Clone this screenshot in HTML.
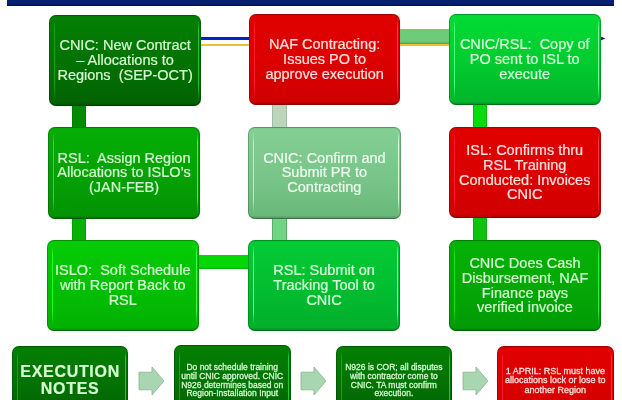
<!DOCTYPE html>
<html><head><meta charset="utf-8">
<style>
*{margin:0;padding:0;box-sizing:border-box}
html,body{width:622px;height:400px;overflow:hidden;background:#fff}
body{position:relative;font-family:"Liberation Sans",sans-serif}
.bar{position:absolute;left:6.5px;top:0;width:607.5px;height:5.6px;background:linear-gradient(#05226e,#04206a 65%,#020e50)}
.c{position:absolute}
.v{box-shadow:inset 1px 0 0 rgba(0,0,0,.12),inset -1px 0 0 rgba(0,0,0,.12)}
.box{position:absolute;z-index:0;will-change:transform;border-radius:7px;display:flex;align-items:center;justify-content:center;text-align:center;font-size:14.5px;line-height:14.8px;white-space:pre;-webkit-text-stroke:.2px currentColor}
.box::before{content:"";position:absolute;z-index:-1;left:0;top:0;right:0;bottom:0;border-radius:inherit;
 box-shadow:inset 0 0 0 1px rgba(0,0,0,.22);
 background:linear-gradient(to bottom,rgba(0,0,0,.12) 0,rgba(0,0,0,0) 2px,rgba(0,0,0,0) calc(100% - 3.5px),rgba(0,0,0,.24) 100%);}
.box::after{content:"";position:absolute;z-index:-1;left:4.5px;right:2px;top:5px;bottom:5px;border-left:1.6px solid var(--hl);border-right:1.6px solid var(--hr,var(--hl));
 -webkit-mask-image:linear-gradient(transparent,#000 12%,#000 80%,transparent);filter:blur(.4px)}
.dg{--hl:#14a414;--hr:#22c43a;background:linear-gradient(#038003,#037303 50%,#026202);color:#d6fad2}
.mg{--hl:#14ee14;--hr:#22ff40;background:linear-gradient(#05ae05,#04a204 50%,#039203);color:#d6fad2}
.g9{--hl:#14e414;--hr:#22f042;background:linear-gradient(#04b204,#03a805 50%,#029a06);color:#d6fad2}
.bg{--hl:#1cff1c;--hr:#40ff40;background:linear-gradient(#06cc06,#03c003 50%,#02b002);color:#d6fcd4}
.b8{--hl:#50ff80;--hr:#80ffa0;background:linear-gradient(#04cc34,#02be30 50%,#00ae2a);color:#daffdc}
.b3{--hl:#50ff80;--hr:#70ff98;background:linear-gradient(#02dc34,#02cc30 50%,#02b42a);color:#d8fcdc}
.lg{--hl:#b4f2c4;--hr:#d8ffe0;background:linear-gradient(#84cf94,#78c488 60%,#68b678);color:#effcef}
.rd{--hl:#ff2030;--hr:#ff3848;background:linear-gradient(#e00000,#dc0000 50%,#cf0000);color:#ffe2e0}
.sm{font-size:8.5px;line-height:8.8px}
.sm span{display:inline-block;-webkit-text-stroke:.26px currentColor}
.ex{font-weight:bold;font-size:16px;line-height:17px;letter-spacing:.7px;padding-left:.7px}
.arr{position:absolute}
</style></head><body>
<div class="bar"></div>

<!-- connectors -->
<div class="c" style="left:201px;top:36.7px;width:400px;height:3.5px;background:#0424c0"></div>
<div class="c" style="left:201px;top:43.6px;width:249px;height:2.5px;background:#e8c42c"></div>
<div class="c" style="left:400px;top:29px;width:50px;height:14.6px;background:#6dcc7a;box-shadow:inset 0 -1.5px 1px rgba(40,90,40,.35)"></div>
<div class="c v" style="left:72px;top:104px;width:14px;height:24px;background:#058a05"></div>
<div class="c v" style="left:72px;top:215px;width:14px;height:26px;background:#07b207"></div>
<div class="c" style="left:197px;top:255px;width:54px;height:14.2px;background:#04d804;box-shadow:inset 0 -1.5px 0 rgba(0,0,0,.12)"></div>
<div class="c" style="left:271.5px;top:104px;width:15px;height:24px;background:#bcd6bc;box-shadow:inset 1px 0 0 #a0bca0,inset -1px 0 0 #a0bca0"></div>
<div class="c" style="left:272px;top:215px;width:14.5px;height:26px;background:#70d482;box-shadow:inset 1px 0 0 rgba(40,110,60,.35),inset -1px 0 0 rgba(40,110,60,.35)"></div>
<div class="c v" style="left:473px;top:104px;width:14px;height:24px;background:#06dc0c"></div>
<div class="c v" style="left:473px;top:215px;width:14px;height:26px;background:#0ec20e"></div>

<svg class="c" style="left:600px;top:35px" width="8" height="8"><path d="M0.6 1.4 L5.4 3.4 L0.6 5.4Z" fill="#0c1890"/></svg>
<!-- row 1 -->
<div class="box dg" style="left:49px;top:15px;width:152.2px;height:91px">CNIC: New Contract
– Allocations to
Regions  (SEP-OCT)</div>
<div class="box rd" style="left:248.75px;top:14px;width:151.25px;height:91px">NAF Contracting:
Issues PO to
approve execution</div>
<div class="box b3" style="left:448.8px;top:13.5px;width:151.5px;height:91px">CNIC/RSL:  Copy of
PO sent to ISL to
execute</div>

<!-- row 2 -->
<div class="box mg" style="left:47.6px;top:126.5px;width:152px;height:91.5px">RSL:  Assign Region
Allocations to ISLO’s
(JAN-FEB)</div>
<div class="box lg" style="left:247.5px;top:126.5px;width:152.75px;height:91.5px">CNIC: Confirm and
Submit PR to
Contracting</div>
<div class="box rd" style="left:448.5px;top:126.5px;width:151.5px;height:91.2px">ISL: Confirms thru
RSL Training
Conducted: Invoices
CNIC</div>

<!-- row 3 -->
<div class="box bg" style="left:47px;top:239.5px;width:151.5px;height:91px">ISLO:  Soft Schedule
with Report Back to
RSL</div>
<div class="box b8" style="left:247.75px;top:239.5px;width:152.25px;height:91px">RSL: Submit on
Tracking Tool to
CNIC</div>
<div class="box g9" style="left:448.5px;top:239.5px;width:152px;height:91px">CNIC Does Cash
Disbursement, NAF
Finance pays
verified invoice</div>

<!-- row 4 -->
<div class="box dg ex" style="left:12px;top:346px;width:115.5px;height:70px;align-items:flex-start;padding-top:17px">EXECUTION
NOTES</div>
<svg class="arr" style="left:138px;top:366px" width="28" height="32" viewBox="0 0 28 32"><path d="M1 6.2 H14 V1 L26 15 L14 29 V23.8 H1 Z" fill="#a8d6b0" stroke="#88b490" stroke-width=".8" stroke-linejoin="round"/></svg>
<div class="box dg sm" style="left:173.5px;top:345px;width:116.5px;height:70px;align-items:flex-start;padding-top:18px"><span>Do not schedule training
until CNIC approved. CNIC
N926 determines based on
Region-Installation Input</span></div>
<svg class="arr" style="left:299.5px;top:366px" width="28" height="32" viewBox="0 0 28 32"><path d="M1 6.2 H14 V1 L26 15 L14 29 V23.8 H1 Z" fill="#a8d6b0" stroke="#88b490" stroke-width=".8" stroke-linejoin="round"/></svg>
<div class="box dg sm" style="left:336px;top:345.6px;width:115.8px;height:70px;align-items:flex-start;padding-top:17px"><span>N926 is COR; all disputes
with contractor come to
CNIC. TA must confirm
execution.</span></div>
<svg class="arr" style="left:461.6px;top:366px" width="28" height="32" viewBox="0 0 28 32"><path d="M1 6.2 H14 V1 L26 15 L14 29 V23.8 H1 Z" fill="#a8d6b0" stroke="#88b490" stroke-width=".8" stroke-linejoin="round"/></svg>
<div class="box rd sm" style="left:497px;top:346px;width:116.7px;height:70px;align-items:flex-start;padding-top:21px;font-size:9px;line-height:9.3px"><span>1 APRIL: RSL must have
allocations lock or lose to
another Region</span></div>
</body></html>
